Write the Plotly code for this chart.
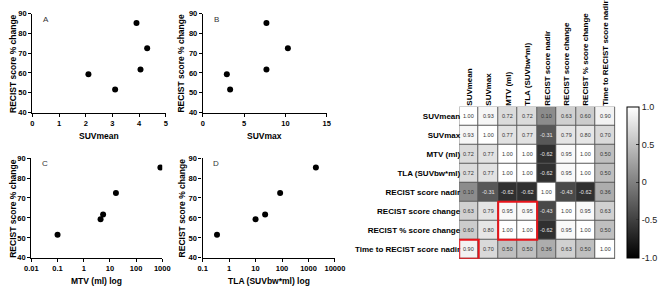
import plotly.graph_objects as go

W, H = 669, 289

# ---------------- data ----------------
recist_pct = [59.3, 51.6, 85.3, 61.7, 72.5]
suv_mean = [2.1, 3.1, 3.9, 4.05, 4.3]
suv_max = [2.9, 3.3, 7.7, 7.7, 10.3]
mtv = [4.4, 0.1, 850, 5.5, 17]
tla = [10, 0.35, 1900, 23, 85]

labels = ["SUVmean", "SUVmax", "MTV (ml)", "TLA (SUVbw*ml)", "RECIST score nadir",
          "RECIST score change", "RECIST % score change", "Time to RECIST score nadir"]
corr = [
    [1.00, 0.93, 0.72, 0.72, 0.10, 0.63, 0.60, 0.90],
    [0.93, 1.00, 0.77, 0.77, -0.31, 0.79, 0.80, 0.70],
    [0.72, 0.77, 1.00, 1.00, -0.62, 0.95, 1.00, 0.50],
    [0.72, 0.77, 1.00, 1.00, -0.62, 0.95, 1.00, 0.50],
    [0.10, -0.31, -0.62, -0.62, 1.00, -0.43, -0.62, 0.36],
    [0.63, 0.79, 0.95, 0.95, -0.43, 1.00, 0.95, 0.63],
    [0.60, 0.80, 1.00, 1.00, -0.62, 0.95, 1.00, 0.50],
    [0.90, 0.70, 0.50, 0.50, 0.36, 0.63, 0.50, 1.00],
]

FONT = "Liberation Sans"


def xd(a, b):
    return [a / W, b / W]


def yd(top, bottom):
    return [1 - bottom / H, 1 - top / H]


fig = go.Figure()

panels = [
    ("x", "y", suv_mean, "A", "SUVmean"),
    ("x2", "y2", suv_max, "B", "SUVmax"),
    ("x3", "y3", mtv, "C", "MTV (ml) log"),
    ("x4", "y4", tla, "D", "TLA (SUVbw*ml) log"),
]
for xa, ya, xs, _, _ in panels:
    fig.add_trace(go.Scatter(x=xs, y=recist_pct, mode="markers", xaxis=xa, yaxis=ya,
                             marker=dict(color="black", size=6), showlegend=False,
                             hoverinfo="skip"))

# heatmap
n = len(labels)
fig.add_trace(go.Heatmap(
    z=corr, x=list(range(n)), y=list(range(n)), xaxis="x5", yaxis="y5",
    zmin=-1, zmax=1, colorscale=[[0, "#000000"], [1, "#ffffff"]],
    xgap=1, ygap=1, showscale=True, hoverinfo="skip",
    colorbar=dict(x=636 / W, xanchor="left", y=1 - 106 / H, yanchor="top",
                  len=156 / H, lenmode="fraction", thickness=12, thicknessmode="pixels",
                  outlinecolor="black", outlinewidth=1, ticks="inside", ticklen=3,
                  tickcolor="#333", tickvals=[-1, -0.5, 0, 0.5, 1],
                  ticktext=["-1.0", "-0.5", "0", "0.5", "1.0"],
                  tickfont=dict(family=FONT, size=9, color="#222"), xpad=0, ypad=0),
))

tickfont = dict(family=FONT, size=7.5, color="black", weight="bold")
axline = dict(showline=True, linecolor="black", linewidth=1.3, ticks="outside",
              ticklen=3, tickwidth=1.3, tickcolor="black", showgrid=False,
              zeroline=False, tickfont=tickfont)

layout = dict(width=W, height=H, margin=dict(l=0, r=0, t=0, b=0),
              paper_bgcolor="white", plot_bgcolor="white", showlegend=False)

ydom_top = yd(10, 112)
ydom_bot = yd(159, 262)
yax = dict(range=[40, 90], tickvals=[40, 50, 60, 70, 80, 90], **axline)

layout["xaxis"] = dict(domain=xd(26, 163), range=[0, 5], tickvals=[0, 1, 2, 3, 4, 5],
                       anchor="y", **axline)
layout["yaxis"] = dict(domain=ydom_top, anchor="x", **yax)
layout["xaxis2"] = dict(domain=xd(201, 328), range=[0, 15], tickvals=[0, 5, 10, 15],
                        anchor="y2", **axline)
layout["yaxis2"] = dict(domain=ydom_top, anchor="x2", **yax)
layout["xaxis3"] = dict(domain=xd(25, 159.3), type="log", range=[-2, 3],
                        tickvals=[0.01, 0.1, 1, 10, 100, 1000],
                        ticktext=["0.01", "0.1", "1", "10", "100", "1000"],
                        anchor="y3", **axline)
layout["yaxis3"] = dict(domain=ydom_bot, anchor="x3", **yax)
layout["xaxis4"] = dict(domain=xd(200.7, 336.5), type="log", range=[-1, 4],
                        tickvals=[0.1, 1, 10, 100, 1000, 10000],
                        ticktext=["0.1", "1", "10", "100", "1000", "10000"],
                        anchor="y4", **axline)
layout["yaxis4"] = dict(domain=ydom_bot, anchor="x4", **yax)

lab_font = dict(family=FONT, size=8, color="black", weight="bold")
layout["xaxis5"] = dict(domain=xd(464, 624), range=[-0.5, n - 0.5], anchor="y5",
                        side="top", tickvals=list(range(n)), ticktext=labels,
                        tickangle=-90, ticks="", showgrid=False, zeroline=False,
                        tickfont=lab_font, showline=False)
layout["yaxis5"] = dict(domain=yd(106, 263), range=[n - 0.5, -0.5], anchor="x5",
                        tickvals=list(range(n)), ticktext=labels, ticks="",
                        showgrid=False, zeroline=False, tickfont=lab_font, showline=False,
                        ticklabelstandoff=-2)

fig.update_layout(**layout)

annotations = []
# panel letters and axis titles
title_font = dict(family=FONT, size=8.5, color="black", weight="bold")
pos = [
    (xd(26, 163), 10, 112, 6),
    (xd(201, 328), 10, 112, 179),
    (xd(25, 159.3), 159, 262, 6),
    (xd(200.7, 336.5), 159, 262, 179),
]
for (xa, ya, xs, letter, xtitle), (dom, top, bot, ytx) in zip(panels, pos):
    annotations.append(dict(text=letter, xref="paper", yref="paper",
                            x=dom[0] + 9 / W, y=1 - (top - 1) / H, xanchor="left",
                            yanchor="top", showarrow=False,
                            font=dict(family=FONT, size=8, color="#333")))
    annotations.append(dict(text=xtitle, xref="paper", yref="paper",
                            x=(dom[0] + dom[1]) / 2, y=1 - (bot + 17) / H,
                            xanchor="center", yanchor="top", showarrow=False,
                            font=title_font))
    annotations.append(dict(text="RECIST score % change", xref="paper", yref="paper",
                            x=ytx / W, y=1 - (top + bot) / 2 / H, textangle=-90,
                            xanchor="center", yanchor="middle", showarrow=False,
                            font=title_font))

# heatmap cell values
for i in range(n):
    for j in range(n):
        v = corr[i][j]
        annotations.append(dict(text=f"{v:.2f}", x=j, y=i, xref="x5", yref="y5",
                                showarrow=False,
                                font=dict(family=FONT, size=5.5,
                                          color="#333" if v > 0.05 else "#e6e6e6")))
fig.update_layout(annotations=annotations)

shapes = [
    dict(type="rect", xref="x5", yref="y5", x0=-0.5, x1=n - 0.5, y0=-0.5, y1=n - 0.5,
         fillcolor="#5a5a5a", line=dict(color="#444444", width=1), layer="below"),
    dict(type="rect", xref="x5", yref="y5", x0=1.5, x1=3.5, y0=4.5, y1=6.5,
         line=dict(color="#e8141b", width=2)),
    dict(type="rect", xref="x5", yref="y5", x0=-0.5, x1=0.5, y0=6.5, y1=7.5,
         line=dict(color="#e8141b", width=2)),
]
fig.update_layout(shapes=shapes)

fig.write_html("out.html")
